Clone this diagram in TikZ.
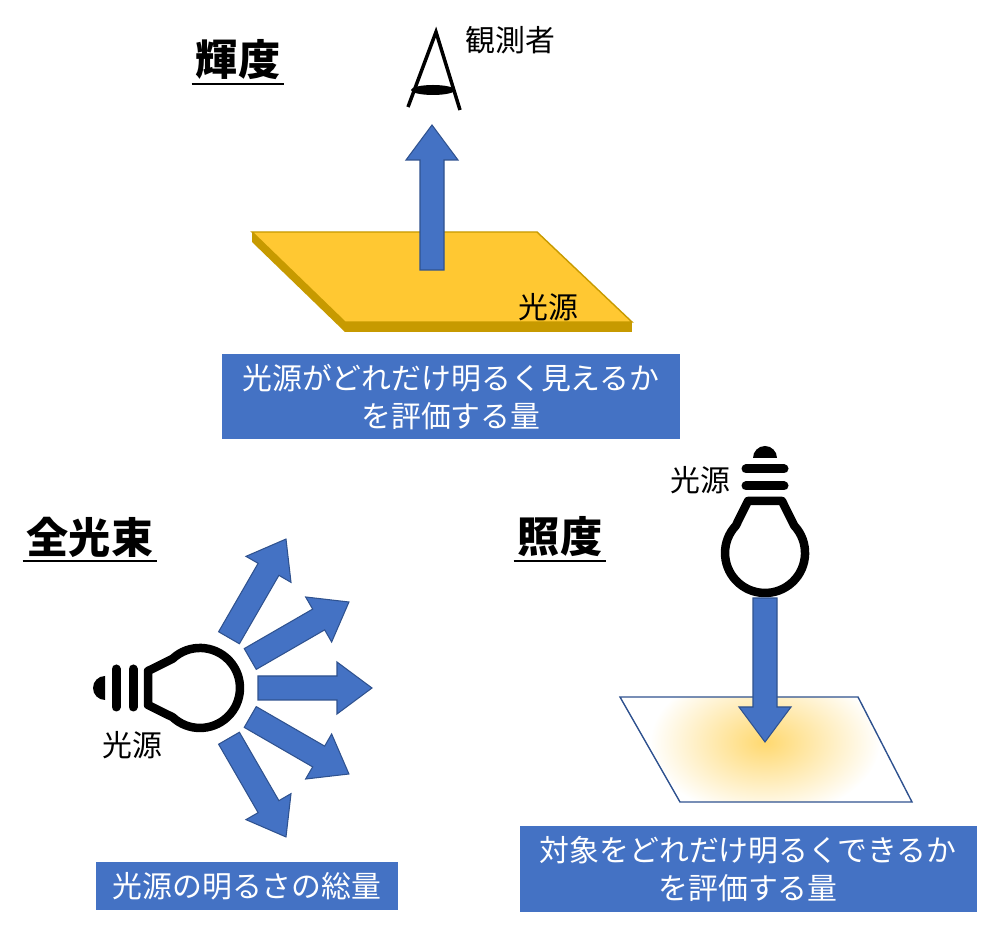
\documentclass[tikz,border=0pt]{standalone}
\usepackage{fontspec}
\setmainfont{Noto Sans CJK JP}
\usetikzlibrary{positioning}
\definecolor{kblue}{HTML}{4472C4}
\definecolor{kblueline}{HTML}{2F528F}
\definecolor{kyellow}{HTML}{FFC832}
\definecolor{kgold}{HTML}{C79A00}

\tikzset{
  title/.style={font=\fontsize{12}{12}\selectfont\bfseries, inner sep=1pt},
  tag/.style={font=\fontsize{8.5}{9}\selectfont, inner sep=0pt},
  infobox/.style={fill=kblue, text=white, align=center, font=\fontsize{8.5}{11}\selectfont, inner sep=0pt},
  lamp/.style={line width=0.85mm, line join=round},
  socket/.style={line width=0.9mm, line cap=round},
  ray/.style={fill=kblue, draw=kblueline, line width=0.3pt}
}
% block arrow of length #1, pointing along local x
\newcommand{\ray}[1]{\draw[ray] (0,-12) -- ({#1-35},-12) -- ({#1-35},-26) -- (#1,0) -- ({#1-35},26) -- ({#1-35},12) -- (0,12) -- cycle;}
% bulb with its socket along local +y
\newcommand{\lampe}{
  \draw[lamp] (-17,52) -- (17,52) -- (29.3,27.3) arc[start angle=43, end angle=-223, radius=40] -- cycle;
  \draw[socket] (-19,67) -- (19,67);
  \draw[socket] (-19,84) -- (19,84);
  \fill (-12,95) arc[start angle=180, end angle=0, radius=12] -- cycle;
}

\begin{document}
\begin{tikzpicture}[x=0.1mm, y=-0.1mm]
  \useasboundingbox (0,0) rectangle (1000,935);

  % luminance
  \node[title] (tLum) at (238,60) {輝度};
  \draw[line width=0.6pt] (tLum.south west) -- (tLum.south east);
  \draw[line width=0.35mm] (408,107) -- (436,32) -- (460,110);
  \fill (433,90) ellipse (22 and 5);
  \node[tag, anchor=west] (obs) at (465,40) {観測者};
  \fill[kgold] (252,232) -- (345,322) -- (345,332) -- (252,242) -- cycle;
  \fill[kgold] (345,322) -- (632,322) -- (632,332) -- (345,332) -- cycle;
  \draw[fill=kyellow, draw=kgold, line width=0.4pt] (252,232) -- (537,232) -- (632,322) -- (345,322) -- cycle;
  \begin{scope}[shift={(432,270)}, rotate=90]
    \ray{145}
  \end{scope}
  \node[tag] (srcA) at (548,307) {光源};
  \node[infobox, minimum width=45.8mm, minimum height=8.5mm] (boxA) at (451,397) {光源がどれだけ明るく見えるか\\を評価する量};

  % luminous flux
  \node[title] (tFlux) at (90,537) {全光束};
  \draw[line width=0.6pt] (tFlux.south west) -- (tFlux.south east);
  \begin{scope}[shift={(200,688)}, x=0.1mm, y=0.1mm, rotate=90]
    \lampe
  \end{scope}
  \foreach \a in {60,30,0,-30,-60}{
    \begin{scope}[shift={(200,688)}, rotate=\a]
      \begin{scope}[shift={(58,0)}]
        \ray{114}
      \end{scope}
    \end{scope}
  }
  \node[tag] (srcB) at (132,745) {光源};
  \node[infobox, minimum width=30.2mm, minimum height=4.8mm] (boxB) at (247,886) {光源の明るさの総量};

  % illuminance
  \node[title] (tIll) at (560,537) {照度};
  \draw[line width=0.6pt] (tIll.south west) -- (tIll.south east);
  \begin{scope}
    \clip (620,697) -- (858,697) -- (912,802) -- (680,802) -- cycle;
    \shade[inner color=kyellow!70!white, outer color=white] (765,742) ellipse (115 and 75);
  \end{scope}
  \draw[kblueline, line width=0.4pt] (620,697) -- (858,697) -- (912,802) -- (680,802) -- cycle;
  \begin{scope}[shift={(765,553)}, x=0.1mm, y=0.1mm]
    \lampe
  \end{scope}
  \node[tag] (srcC) at (700,480) {光源};
  \begin{scope}[shift={(765,598)}, rotate=-90]
    \ray{144}
  \end{scope}
  \node[infobox, minimum width=45.7mm, minimum height=8.6mm] (boxC) at (748,869) {対象をどれだけ明るくできるか\\を評価する量};
\end{tikzpicture}
\end{document}
